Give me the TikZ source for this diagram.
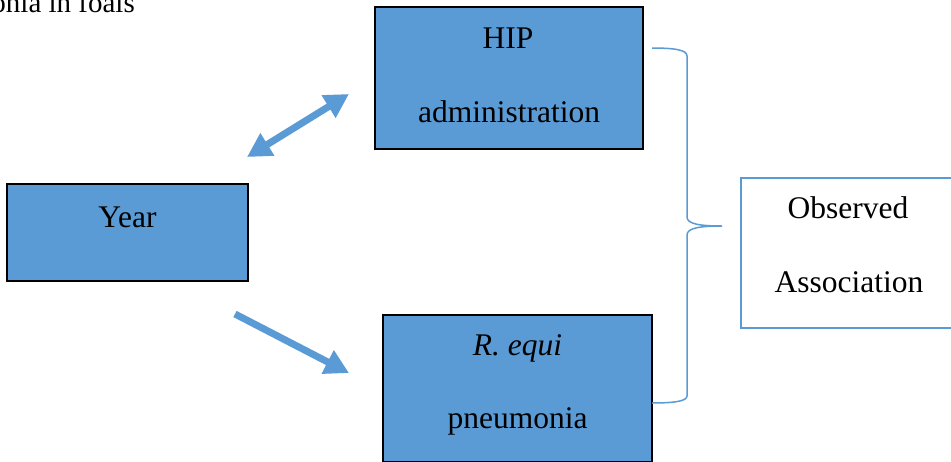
\documentclass[tikz,border=0pt]{standalone}
\usepackage{fontspec}
\setmainfont{Liberation Serif}
\usetikzlibrary{arrows.meta}
\definecolor{officeblue}{HTML}{5B9BD5}
\tikzset{
  bluebox/.style={draw=black, line width=2.5pt, fill=officeblue, rectangle, inner sep=0pt},
  whitebox/.style={draw=officeblue, line width=2pt, fill=white, rectangle, inner sep=0pt},
  lbl/.style={font=\fontsize{31.5}{36}\selectfont, inner sep=0pt, anchor=base},
  fatarrow/.style={draw=officeblue, line width=7pt, line cap=butt},
  bracepath/.style={draw=officeblue, line width=1.5pt}
}
\begin{document}
\begin{tikzpicture}[x=1pt,y=-1pt]
\useasboundingbox (0,0) rectangle (951,461);
\fill[white] (0,0) rectangle (951,461);
% caption fragment
\node[font=\fontsize{29}{34}\selectfont, inner sep=0pt, anchor=base east] (cap) at (135,12) {onia in foals};
% boxes
\node[bluebox, minimum width=268pt, minimum height=142pt] (hip) at (509,78) {};
\node[bluebox, minimum width=269pt, minimum height=147pt] (requi) at (517.5,388.5) {};
\node[bluebox, minimum width=241pt, minimum height=97pt] (year) at (127.5,232.5) {};
\node[whitebox, minimum width=215pt, minimum height=150pt] (obs) at (848.5,253) {};
% labels
\node[lbl] (hip1) at (508,48) {HIP};
\node[lbl] (hip2) at (509,122) {administration};
\node[lbl] (req1) at (517.5,355) {\textit{R. equi}};
\node[lbl] (req2) at (517.5,428) {pneumonia};
\node[lbl] (year1) at (127.5,227) {Year};
\node[lbl] (obs1) at (848,218) {Observed};
\node[lbl] (obs2) at (849,292) {Association};
% arrows
\coordinate (a1s) at (247,157);
\coordinate (a1e) at (349,94);
\coordinate (a2s) at (235,314);
\coordinate (a2e) at (349,373);
\draw[fatarrow, {Triangle[length=24pt,width=25pt]}-{Triangle[length=24pt,width=25pt]}] (a1s) -- (a1e);
\draw[fatarrow, -{Triangle[length=24pt,width=25pt]}] (a2s) -- (a2e);
% brace
\coordinate (bt) at (652,48);
\coordinate (bm) at (722,226);
\coordinate (bb) at (652,403);
\draw[bracepath] (bt) .. controls (675,48) and (687,50) .. (687,56)
  -- (687,217) .. controls (687,224) and (700,226) .. (bm)
  .. controls (700,226) and (687,228) .. (687,235)
  -- (687,396) .. controls (687,401) and (675,403) .. (bb);
\end{tikzpicture}
\end{document}
